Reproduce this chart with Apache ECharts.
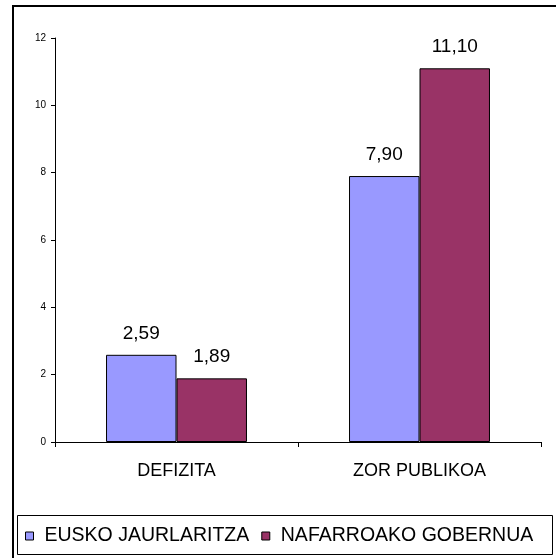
<!DOCTYPE html>
<html>
<head>
<meta charset="utf-8">
<script src="https://cdn.jsdelivr.net/npm/echarts@6/dist/echarts.min.js"></script>
<style>
html,body{margin:0;padding:0;background:#fff;}
#chart{width:556px;height:558px;}
</style>
</head>
<body>
<div id="chart"></div>
<script>
const categories = ['DEFIZITA', 'ZOR PUBLIKOA'];
const seriesNames = ['EUSKO JAURLARITZA', 'NAFARROAKO GOBERNUA'];
const euskoValues = [2.59, 7.90];
const nafarroaValues = [1.89, 11.10];
const yTicks = [0, 2, 4, 6, 8, 10, 12];

const font = '"Liberation Sans", Arial, sans-serif';
const chart = echarts.init(document.getElementById('chart'));

const labelCfg = {
  show: true,
  position: 'top',
  distance: 12,
  color: '#000',
  fontFamily: font,
  fontSize: 19,
  formatter: p => p.value.toFixed(2).replace('.', ',')
};

chart.setOption({
  animation: false,
  backgroundColor: '#fff',
  graphic: [
    { type: 'rect', shape: { x: 13, y: 6, width: 560, height: 570 },
      style: { fill: 'none', stroke: '#000', lineWidth: 2 }, silent: true, z: -1 },
    { type: 'rect', shape: { x: 17.5, y: 515.5, width: 535, height: 39 },
      style: { fill: 'none', stroke: '#000', lineWidth: 1 }, silent: true, z: -1 }
  ],
  grid: { left: 55, right: 15, top: 38, bottom: 116, containLabel: false },
  legend: {
    data: seriesNames,
    left: 25,
    top: 526,
    icon: 'rect',
    itemWidth: 8,
    itemHeight: 8,
    itemGap: 12,
    itemStyle: { borderColor: '#000', borderWidth: 1 },
    textStyle: { fontFamily: font, fontSize: 19.5, color: '#000', padding: [0, 0, 0, 6] },
    padding: 0
  },
  xAxis: {
    type: 'category',
    data: categories,
    boundaryGap: true,
    axisLine: { lineStyle: { color: '#000', width: 1 } },
    axisTick: { show: true, length: 5, lineStyle: { color: '#000' } },
    axisLabel: { margin: 20, color: '#000', fontFamily: font, fontSize: 18 },
    splitLine: { show: false }
  },
  yAxis: {
    type: 'value',
    min: yTicks[0],
    max: yTicks[yTicks.length - 1],
    interval: 2,
    axisLine: { show: true, lineStyle: { color: '#000', width: 1 } },
    axisTick: { show: true, length: 4, lineStyle: { color: '#000' } },
    axisLabel: { margin: 9, color: '#000', fontFamily: font, fontSize: 10 },
    splitLine: { show: false }
  },
  series: [
    {
      name: seriesNames[0], type: 'bar', data: euskoValues,
      barGap: '0%', barCategoryGap: '42%',
      itemStyle: { color: '#9999FF', borderColor: '#000', borderWidth: 1 },
      label: labelCfg
    },
    {
      name: seriesNames[1], type: 'bar', data: nafarroaValues,
      barGap: '0%', barCategoryGap: '42%',
      itemStyle: { color: '#993366', borderColor: '#000', borderWidth: 1 },
      label: labelCfg
    }
  ]
});
</script>
</body>
</html>
